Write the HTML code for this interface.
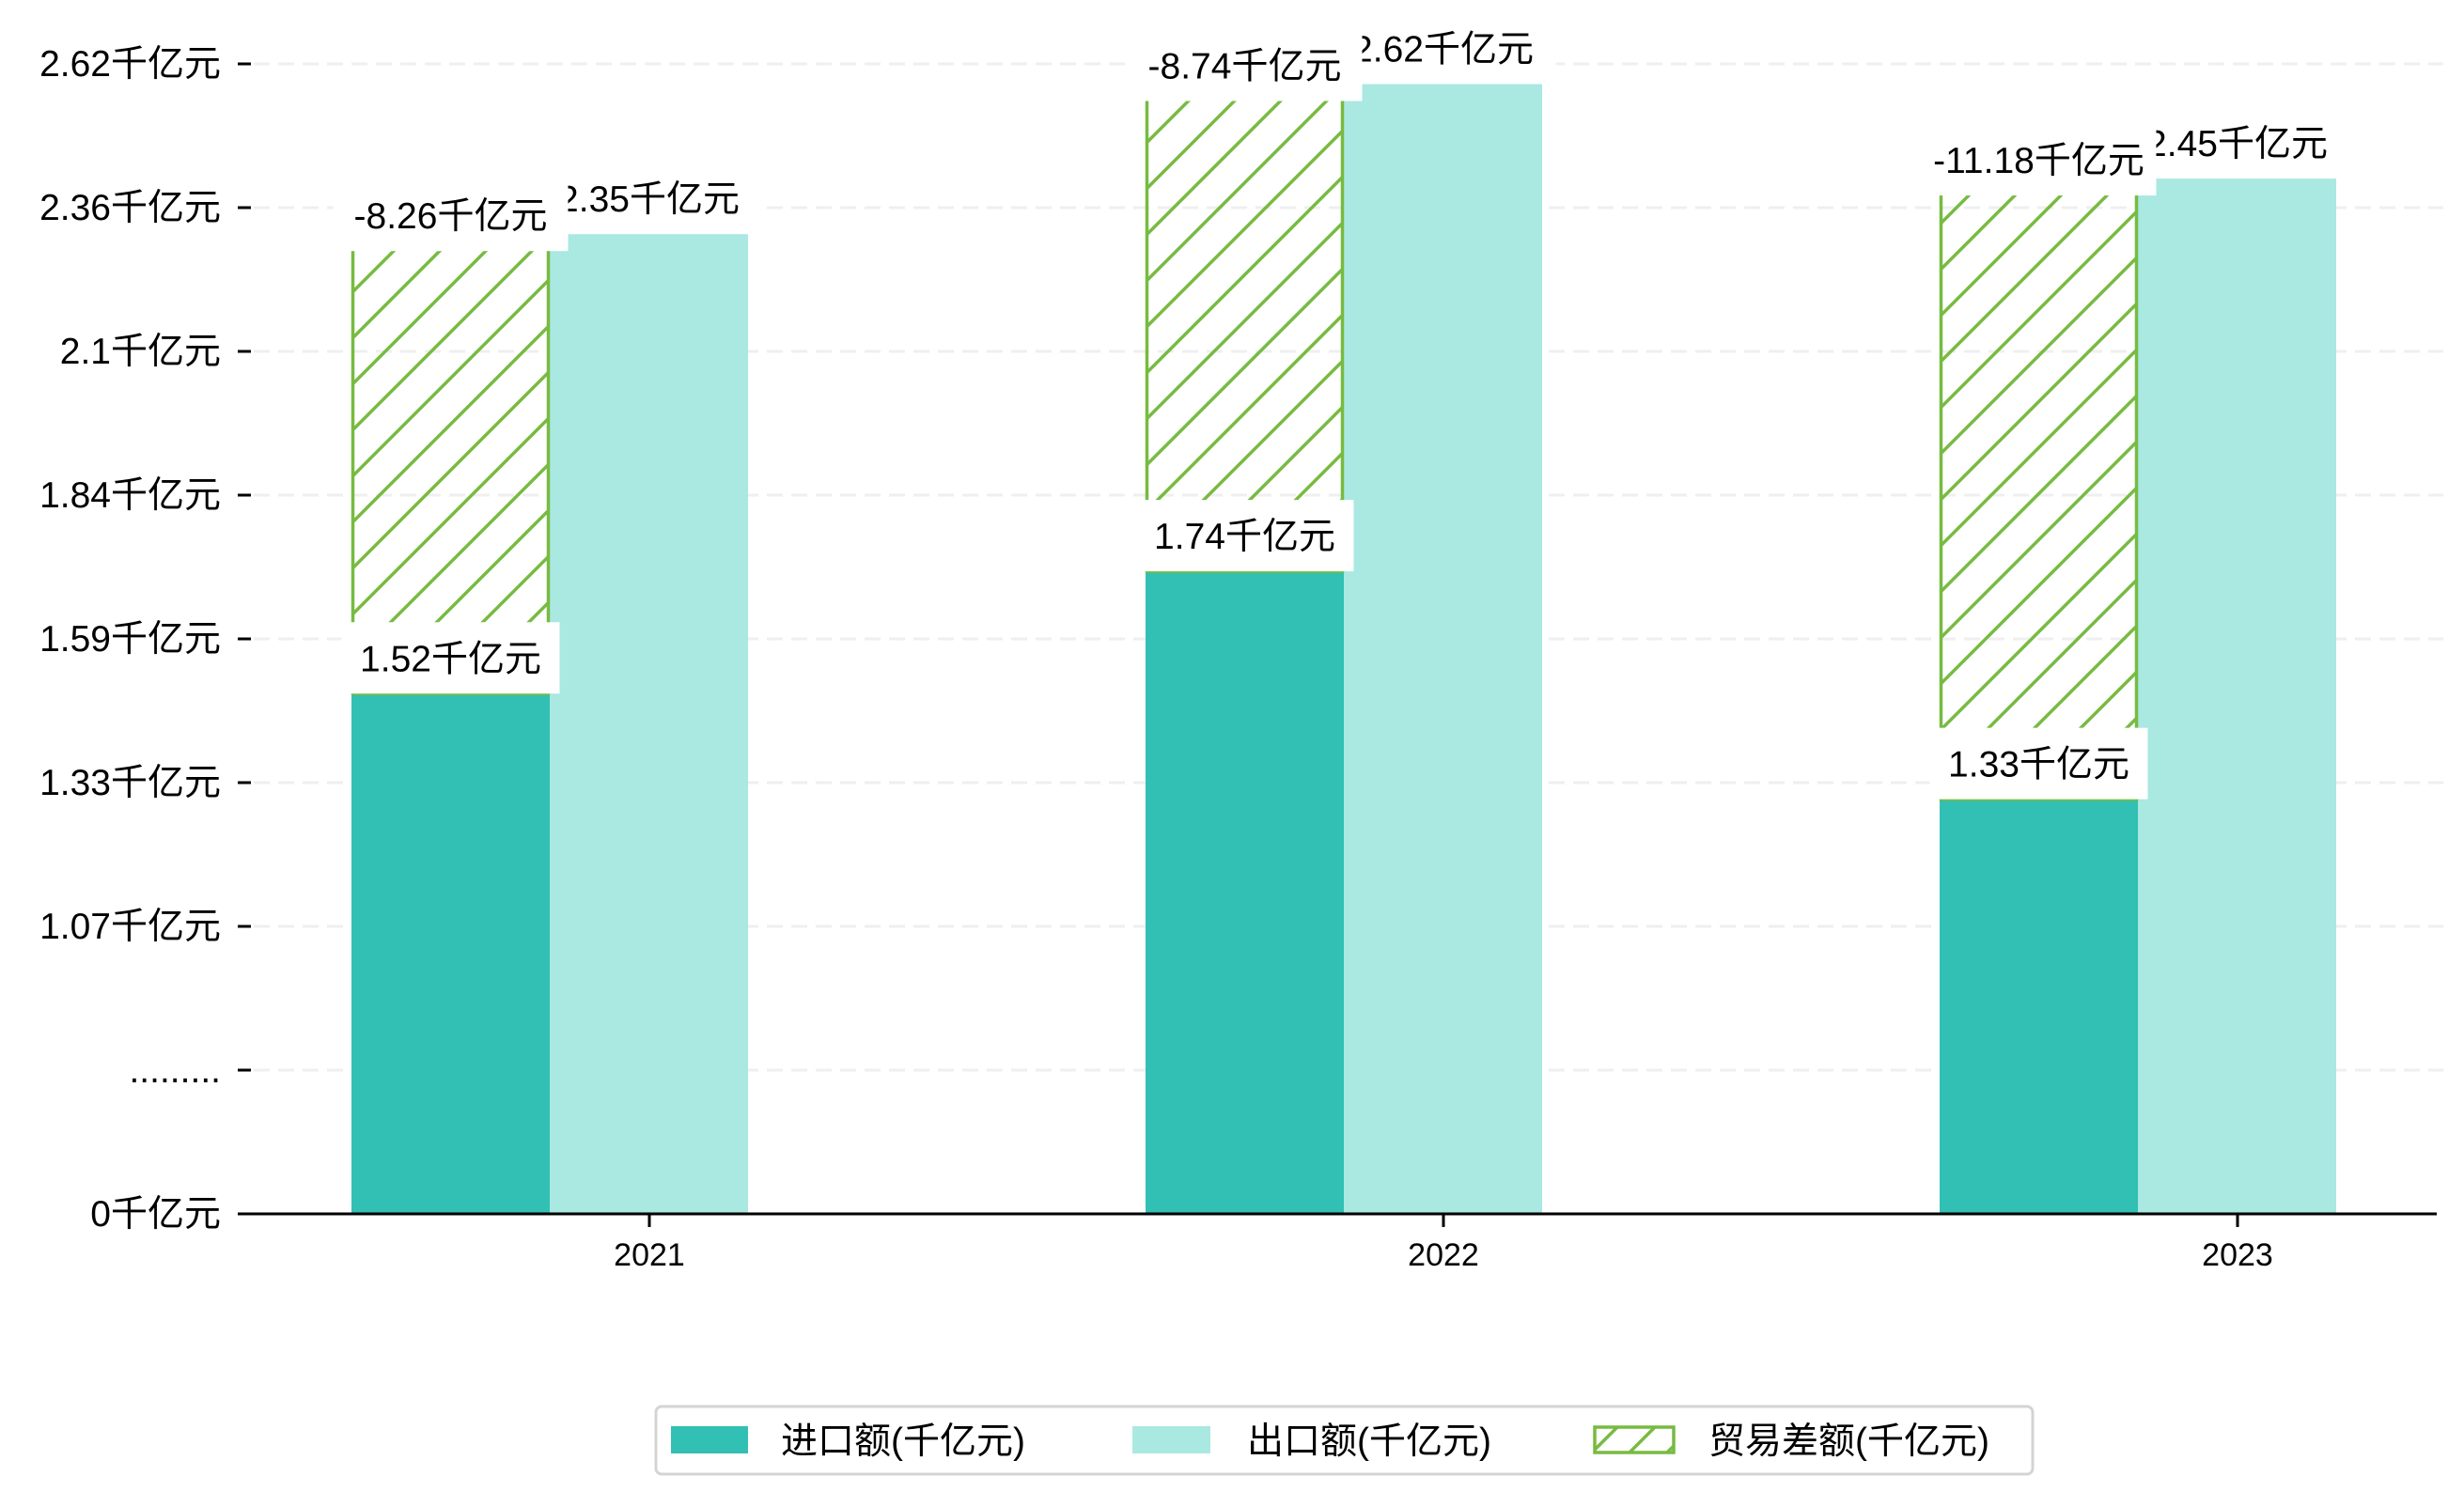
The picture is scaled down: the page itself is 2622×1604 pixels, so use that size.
<!DOCTYPE html>
<html><head><meta charset="utf-8"><style>
html,body{margin:0;padding:0;background:#fff;}
svg text{font-family:"Liberation Sans","Noto Sans CJK SC",sans-serif;fill:#000;}
</style></head><body>
<svg id="chart" xmlns="http://www.w3.org/2000/svg" width="2622" height="1599" viewBox="0 0 2622 1599">
<defs>
<pattern id="hatch" patternUnits="userSpaceOnUse" width="49" height="49">
<path d="M0,49 L49,0 M-12,12 L12,-12 M37,61 L61,37" stroke="#77bb41" stroke-width="3.5"/>
</pattern>
<pattern id="hatchLeg" patternUnits="userSpaceOnUse" width="40" height="40">
<path d="M0,40 L40,0 M-10,10 L10,-10 M30,50 L50,30" stroke="#77bb41" stroke-width="3.5"/>
</pattern>
</defs>
<g id="grid"></g>
<g id="bars"></g>
<g id="labels"></g>
<g id="axes"></g>
<g>
<rect x="698" y="1497" width="1465" height="72" rx="6" fill="#fff" stroke="#d4d4d4" stroke-width="3"/>
<g>
<rect x="714" y="1518" width="82" height="29" fill="#31c0b3"/>
<text x="831" y="1547" font-size="39">进口额(千亿元)</text></g>
<g>
<rect x="1205" y="1518" width="83" height="29" fill="#aae8e2"/>
<text x="1327" y="1547" font-size="39">出口额(千亿元)</text></g>
<g>
<rect x="1697" y="1519" width="84" height="27" fill="url(#hatchLeg)" stroke="#77bb41" stroke-width="3.5"/>
<text x="1818" y="1547" font-size="39">贸易差额(千亿元)</text></g>
</g>
</svg>
<script>
const years = ["2021", "2022", "2023"];
const imports = [1.52, 1.74, 1.33];
const exports = [2.35, 2.62, 2.45];
const balances = [-8.26, -8.74, -11.18];
const yTickLabels = ["0千亿元", ".........", "1.07千亿元", "1.33千亿元", "1.59千亿元", "1.84千亿元", "2.1千亿元", "2.36千亿元", "2.62千亿元"];

const NS = "http://www.w3.org/2000/svg";
const baseY = 1292, axisLeft = 253, axisRight = 2593;
const yOrigin = 0.584, pxPerUnit = 591.6;
function yScale(v){ return baseY - (v - yOrigin) * pxPerUnit; }
function xScale(i){ return 691 + i * 845; }
function tickY(i){ return baseY - i * 153; }
const barW = 211;

function mk(tag, attrs, parent){
  const el = document.createElementNS(NS, tag);
  for (const k in attrs) el.setAttribute(k, attrs[k]);
  parent.appendChild(el);
  return el;
}
const grid = document.getElementById("grid");
const bars = document.getElementById("bars");
const labels = document.getElementById("labels");
const axes = document.getElementById("axes");

yTickLabels.forEach((lab, i) => {
  const y = tickY(i);
  if (i > 0) {
    const g = mk("line", {x1: 270, x2: 2600, y1: y, y2: y, stroke: "#efefef", "stroke-width": 3, "stroke-dasharray": "17 9"}, grid);
    
    
  }
  const t = mk("line", {x1: axisLeft, x2: 267, y1: y, y2: y, stroke: "#000", "stroke-width": 3}, axes);
  
  
  const tx = mk("text", {x: 235, y: y + 13, "font-size": 39, "text-anchor": "end"}, axes);
  tx.textContent = lab;
  
  
});

function labelBox(text, cx, cy, w, name){
  const r = mk("rect", {x: cx - w/2, y: cy - 38, width: w, height: 76, fill: "#fff"}, labels);
  
  
  const t = mk("text", {x: cx, y: cy + 14, "font-size": 39, "text-anchor": "middle"}, labels);
  t.textContent = text;
  
  
}

years.forEach((yr, i) => {
  const c = xScale(i);
  const xi = c - 317, xe = c - 106;
  const yi = yScale(imports[i]), ye = yScale(exports[i]);
  const b1 = mk("rect", {x: xi, y: yi, width: barW, height: baseY - yi, fill: "#31c0b3"}, bars);
  
  
  const b2 = mk("rect", {x: xe, y: ye, width: barW, height: baseY - ye, fill: "#aae8e2"}, bars);
  
  
  const b3 = mk("rect", {x: xi + 1.5, y: ye, width: barW - 3, height: yi - ye, fill: "url(#hatch)", stroke: "#77bb41", "stroke-width": 3.5}, bars);
  
  

  labelBox(exports[i].toFixed(2) + "千亿元", xe + barW/2, ye - 36, 240, 'export-label-' + yr);
  labelBox(balances[i].toFixed(2) + "千亿元", xi + barW/2, ye - 18, 250, 'balance-label-' + yr);
  labelBox(imports[i].toFixed(2) + "千亿元", xi + barW/2, yi - 38, 232, 'import-label-' + yr);

  const tk = mk("line", {x1: c, x2: c, y1: baseY, y2: baseY + 14, stroke: "#000", "stroke-width": 3}, axes);
  
  
  const tl = mk("text", {x: c, y: baseY + 55, "font-size": 34, "text-anchor": "middle"}, axes);
  tl.textContent = yr;
  
  
});

const ax = mk("line", {x1: axisLeft, x2: axisRight, y1: baseY, y2: baseY, stroke: "#000", "stroke-width": 3}, axes);


</script>
</body></html>
